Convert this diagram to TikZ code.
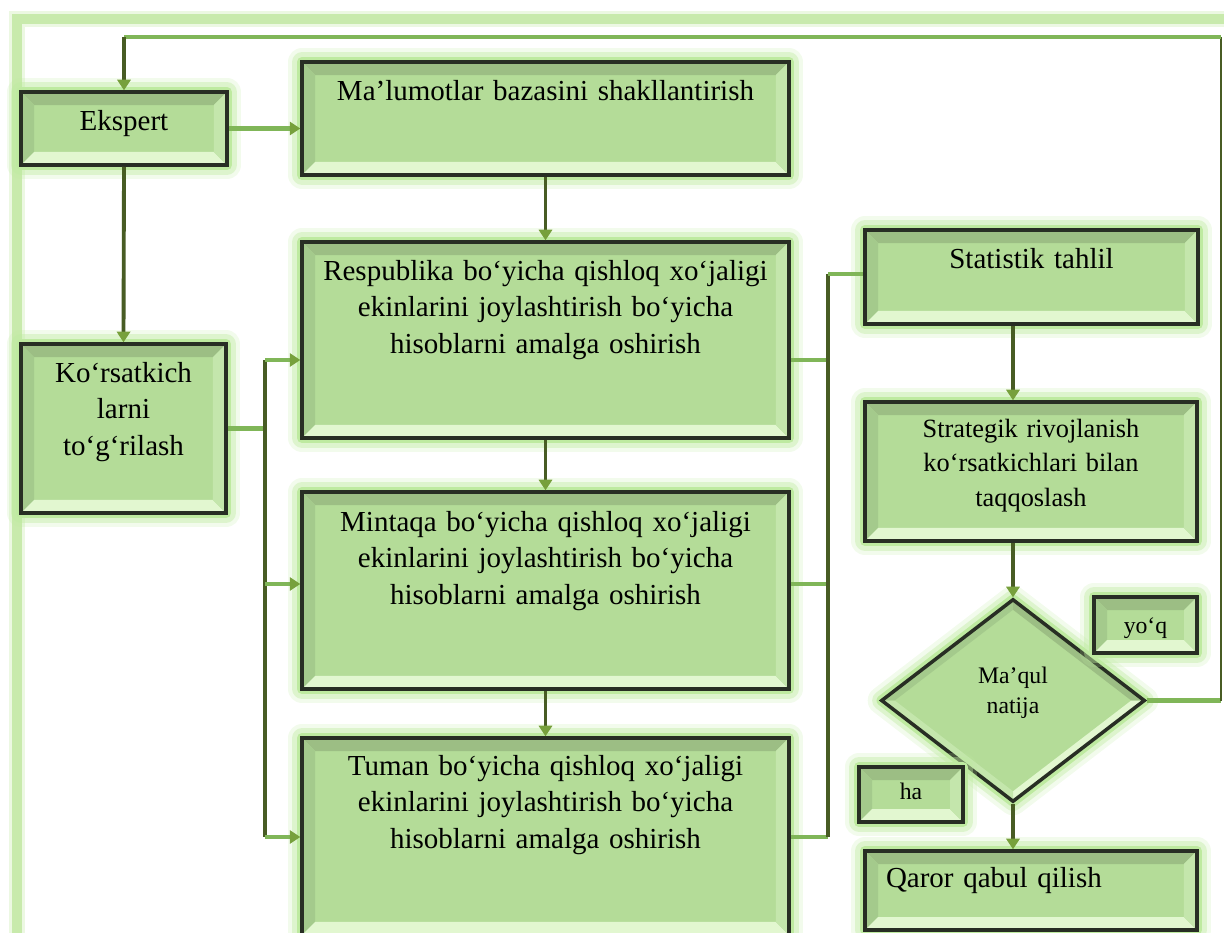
\documentclass[tikz,border=0pt]{standalone}
\usepackage{fontspec}
\setmainfont{Liberation Serif}
\usepackage{tikz}
\usetikzlibrary{arrows.meta,shapes.geometric}

\definecolor{faceGreen}{RGB}{180,220,152}
\definecolor{bvTop}{RGB}{156,190,132}
\definecolor{bvLeft}{RGB}{164,202,140}
\definecolor{bvBot}{RGB}{226,247,208}
\definecolor{bvRight}{RGB}{196,230,172}
\definecolor{boxLine}{RGB}{40,46,36}
\definecolor{glowGreen}{RGB}{190,234,160}
\definecolor{lnDark}{RGB}{72,92,36}
\definecolor{lnLight}{RGB}{128,182,88}
\definecolor{tipGreen}{RGB}{119,160,60}
\definecolor{frameGreen}{RGB}{200,234,172}

\newcommand{\bv}{0.26cm}

\tikzset{
  glow/.style={preaction={draw=glowGreen,line width=16pt,opacity=.2,line join=round},
               preaction={draw=glowGreen,line width=11pt,opacity=.4,line join=round},
               preaction={draw=glowGreen,line width=6pt,line join=round}},
  bevelrect/.style={path picture={
      \fill[bvTop] (path picture bounding box.north west) -- (path picture bounding box.north east)
        -- ([shift={(-\bv,-\bv)}]path picture bounding box.north east)
        -- ([shift={(\bv,-\bv)}]path picture bounding box.north west) -- cycle;
      \fill[bvLeft] (path picture bounding box.north west) -- ([shift={(\bv,-\bv)}]path picture bounding box.north west)
        -- ([shift={(\bv,\bv)}]path picture bounding box.south west) -- (path picture bounding box.south west) -- cycle;
      \fill[bvBot] (path picture bounding box.south west) -- ([shift={(\bv,\bv)}]path picture bounding box.south west)
        -- ([shift={(-\bv,\bv)}]path picture bounding box.south east) -- (path picture bounding box.south east) -- cycle;
      \fill[bvRight] (path picture bounding box.south east) -- ([shift={(-\bv,\bv)}]path picture bounding box.south east)
        -- ([shift={(-\bv,-\bv)}]path picture bounding box.north east) -- (path picture bounding box.north east) -- cycle;
    }},
  beveldiam/.style={path picture={
      \fill[bvLeft] (path picture bounding box.west) -- (path picture bounding box.north)
        -- ([yshift=-0.2cm]path picture bounding box.north) -- ([xshift=0.26cm]path picture bounding box.west) -- cycle;
      \fill[bvTop] (path picture bounding box.north) -- (path picture bounding box.east)
        -- ([xshift=-0.26cm]path picture bounding box.east) -- ([yshift=-0.2cm]path picture bounding box.north) -- cycle;
      \fill[bvBot] (path picture bounding box.east) -- (path picture bounding box.south)
        -- ([yshift=0.2cm]path picture bounding box.south) -- ([xshift=-0.26cm]path picture bounding box.east) -- cycle;
      \fill[bvRight] (path picture bounding box.south) -- (path picture bounding box.west)
        -- ([xshift=0.26cm]path picture bounding box.west) -- ([yshift=0.2cm]path picture bounding box.south) -- cycle;
    }},
  bevelbox/.style={rectangle,draw=boxLine,line width=2pt,fill=faceGreen,inner sep=0pt,
    align=center,glow,bevelrect,font=\fontsize{16.5}{21}\selectfont},
  smallbox/.style={bevelbox,font=\fontsize{13.5}{17.6}\selectfont},
  decision/.style={diamond,draw=boxLine,line width=2pt,fill=faceGreen,inner sep=0pt,
    align=center,glow,beveldiam,font=\fontsize{13.5}{17.6}\selectfont},
  darkline/.style={draw=lnDark,line width=2.2pt},
  lightline/.style={draw=lnLight,line width=2.4pt},
  arr/.style={-{Triangle[length=6pt,width=7.5pt,color=tipGreen]}},
  framestyle/.style={draw=frameGreen,line width=5.5pt,
    preaction={draw=frameGreen,line width=9pt,opacity=.35}}
}

\begin{document}
\begin{tikzpicture}[x=0.02cm,y=-0.02cm]
\useasboundingbox (0,0) rectangle (1224,933);
\draw[framestyle] (17,940) -- (17,19) -- (1230,19);

\node[bevelbox,minimum width=4.12cm,minimum height=1.46cm,text width=3.8cm,text height=0.06cm,text depth=0pt] (ekspert) at (124,128.5) {Ekspert};
\node[bevelbox,minimum width=9.74cm,minimum height=2.26cm,text width=9.2cm,text height=0pt,text depth=0.74cm] (malumot) at (545.5,118.5) {Ma’lumotlar bazasini shakllantirish};
\node[bevelbox,minimum width=4.1cm,minimum height=3.38cm,text width=3.8cm,text height=0pt,text depth=1.86cm] (korsat) at (123.5,428.5) {Ko‘rsatkich\\larni\\to‘g‘rilash};
\node[bevelbox,minimum width=9.74cm,minimum height=3.92cm,text width=9.4cm,text height=0pt,text depth=2.4cm] (respub) at (545.5,340) {Respublika bo‘yicha qishloq xo‘jaligi\\ekinlarini joylashtirish bo‘yicha\\hisoblarni amalga oshirish};
\node[bevelbox,minimum width=9.74cm,minimum height=3.94cm,text width=9.4cm,text height=0pt,text depth=2.38cm] (mintaqa) at (545.5,590.5) {Mintaqa bo‘yicha qishloq xo‘jaligi\\ekinlarini joylashtirish bo‘yicha\\hisoblarni amalga oshirish};
\node[bevelbox,minimum width=9.74cm,minimum height=3.94cm,text width=9.4cm,text height=0pt,text depth=2.46cm] (tuman) at (545.5,836.5) {Tuman bo‘yicha qishloq xo‘jaligi\\ekinlarini joylashtirish bo‘yicha\\hisoblarni amalga oshirish};
\node[bevelbox,minimum width=6.66cm,minimum height=1.88cm,text width=6.2cm,text height=0pt,text depth=0.36cm] (stat) at (1031.5,277) {Statistik tahlil};
\node[bevelbox,minimum width=6.64cm,minimum height=2.78cm,text width=6.2cm,text height=0pt,text depth=1.38cm,font=\fontsize{15}{19.8}\selectfont] (strat) at (1031,471.5) {Strategik rivojlanish\\ko‘rsatkichlari bilan\\taqqoslash};
\node[decision,minimum width=5.28cm,minimum height=4.06cm,text width=2cm,text height=0pt,text depth=0.7cm] (maqul) at (1013,700.5) {Ma’qul\\natija};
\node[smallbox,minimum width=2.06cm,minimum height=1.12cm,text width=1.6cm,text height=0.32cm,text depth=0pt] (yoq) at (1145.5,625) {yo‘q};
\node[smallbox,minimum width=2.08cm,minimum height=1.1cm,text width=1.6cm,text height=0.18cm,text depth=0pt] (ha) at (911,794.5) {ha};
\node[bevelbox,minimum width=6.64cm,minimum height=1.58cm,text width=5.8cm,align=left,text height=0pt,text depth=0.14cm] (qaror) at (1031,890.5) {Qaror qabul qilish};

\coordinate (lb1) at (265,360);
\coordinate (lb2) at (265,584);
\coordinate (lb3) at (265,837);
\coordinate (rb0) at (828,274);
\coordinate (rb1) at (828,360);
\coordinate (rb2) at (828,584);
\coordinate (rb3) at (828,837);
\coordinate (fb1) at (1221,700.5);
\coordinate (fb2) at (1221,37);

\draw[lightline,arr] (ekspert.east) -- (malumot.west |- ekspert.east);
\draw[darkline,arr] (ekspert.south) -- (korsat.north);
\draw[darkline,arr] (malumot.south) -- (respub.north);
\draw[darkline,arr] (respub.south) -- (mintaqa.north);
\draw[darkline,arr] (mintaqa.south) -- (tuman.north);

\draw[lightline] (korsat.east) -- (korsat.east -| lb1);
\draw[darkline] (lb1) -- (lb3);
\draw[lightline,arr] (lb1) -- (respub.west |- lb1);
\draw[lightline,arr] (lb2) -- (mintaqa.west |- lb2);
\draw[lightline,arr] (lb3) -- (tuman.west |- lb3);

\draw[lightline] (respub.east |- rb1) -- (rb1);
\draw[lightline] (mintaqa.east |- rb2) -- (rb2);
\draw[lightline] (tuman.east |- rb3) -- (rb3);
\draw[darkline] (rb0) -- (rb3);
\draw[lightline] (rb0) -- (stat.west |- rb0);

\draw[darkline,arr] (stat.south -| maqul.north) -- (strat.north -| maqul.north);
\draw[darkline,arr] (strat.south -| maqul.north) -- (maqul.north);
\draw[darkline,arr] (maqul.south) -- (qaror.north -| maqul.south);

\draw[lightline] (maqul.east) -- (fb1);
\draw[darkline,line width=1.2pt] (fb1) -- (fb2);
\draw[lightline,line width=2.8pt] (fb2) -- (ekspert.north |- fb2);
\draw[darkline,arr] (ekspert.north |- fb2) -- (ekspert.north);
\end{tikzpicture}
\end{document}
